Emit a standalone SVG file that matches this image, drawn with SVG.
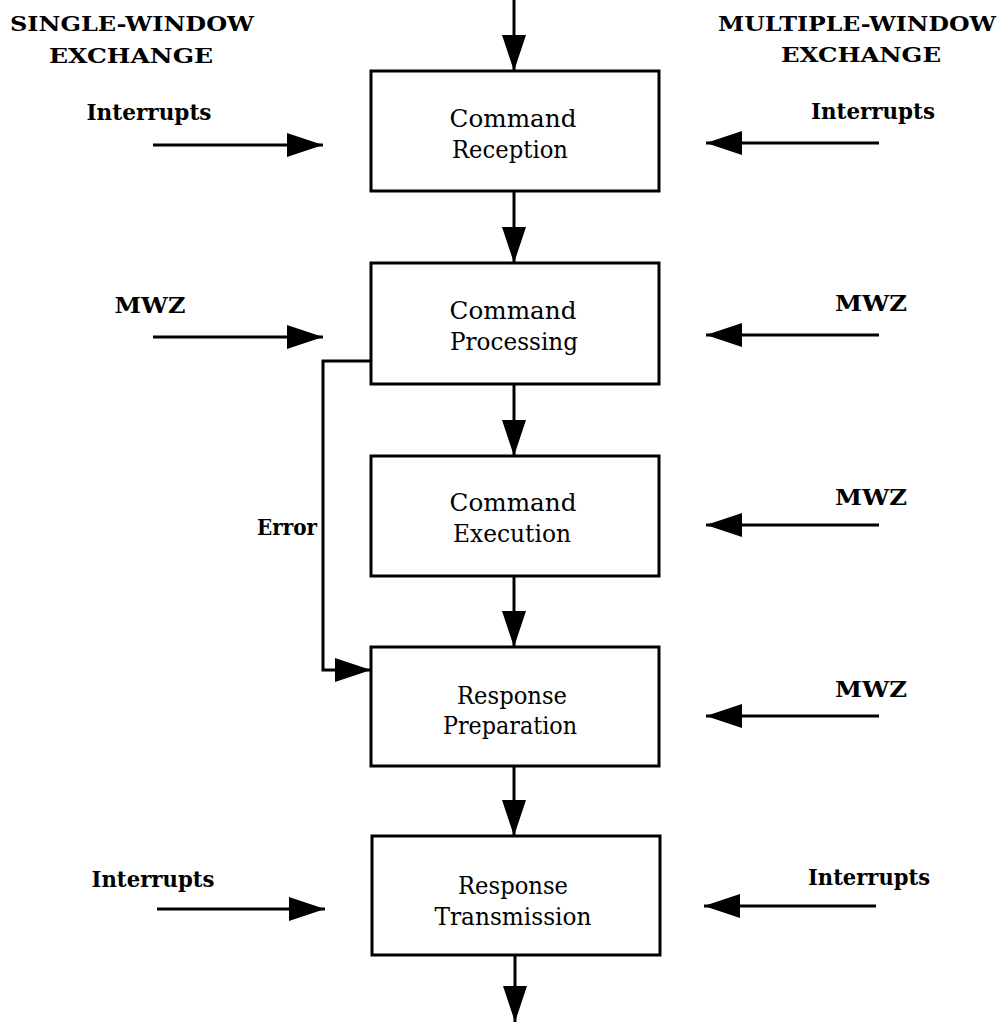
<svg xmlns="http://www.w3.org/2000/svg" width="1008" height="1024" viewBox="0 0 1008 1024">
<defs>
<style>
.box{fill:#fff;stroke:#000;stroke-width:3}
.ln{fill:none;stroke:#000;stroke-width:3}
.t{font-family:"DejaVu Serif","Liberation Serif",serif;font-size:25px;fill:#000;text-anchor:middle}
.b{font-family:"DejaVu Serif","Liberation Serif",serif;font-size:22px;font-weight:bold;fill:#000;text-anchor:middle}
.h{font-family:"DejaVu Serif","Liberation Serif",serif;font-size:21px;font-weight:bold;fill:#000;text-anchor:middle}
</style>
<marker id="ah" markerUnits="userSpaceOnUse" markerWidth="38" markerHeight="24" refX="36" refY="12" orient="auto">
<path d="M0,0 L36,12 L0,24 Z" fill="#000"/>
</marker>
</defs>
<rect width="1008" height="1024" fill="#fff"/>

<g id="headers">
<text class="h" x="132" y="31" textLength="244" lengthAdjust="spacingAndGlyphs">SINGLE-WINDOW</text>
<text class="h" x="131" y="63" textLength="164" lengthAdjust="spacingAndGlyphs">EXCHANGE</text>
<text class="h" x="857" y="31" textLength="278" lengthAdjust="spacingAndGlyphs">MULTIPLE-WINDOW</text>
<text class="h" x="861" y="62" textLength="160" lengthAdjust="spacingAndGlyphs">EXCHANGE</text>
</g>

<g id="labels">
<text class="b" x="149" y="120" textLength="125" lengthAdjust="spacingAndGlyphs">Interrupts</text>
<text class="b" x="873" y="119" textLength="124" lengthAdjust="spacingAndGlyphs">Interrupts</text>
<text class="b" x="150" y="313" textLength="71" lengthAdjust="spacingAndGlyphs">MWZ</text>
<text class="b" x="871" y="311" textLength="72" lengthAdjust="spacingAndGlyphs">MWZ</text>
<text class="b" x="871" y="505" textLength="72" lengthAdjust="spacingAndGlyphs">MWZ</text>
<text class="b" x="871" y="697" textLength="72" lengthAdjust="spacingAndGlyphs">MWZ</text>
<text class="b" x="287" y="535" textLength="60" lengthAdjust="spacingAndGlyphs">Error</text>
<text class="b" x="153" y="887" textLength="123" lengthAdjust="spacingAndGlyphs">Interrupts</text>
<text class="b" x="869" y="885" textLength="122" lengthAdjust="spacingAndGlyphs">Interrupts</text>
</g>

<g id="node-command-reception">
<rect class="box" x="371" y="71" width="288" height="120"/>
<text class="t" x="513" y="127" textLength="127" lengthAdjust="spacingAndGlyphs">Command</text>
<text class="t" x="510" y="158" textLength="116" lengthAdjust="spacingAndGlyphs">Reception</text>
</g>
<g id="node-command-processing">
<rect class="box" x="371" y="263" width="288" height="121"/>
<text class="t" x="513" y="319" textLength="127" lengthAdjust="spacingAndGlyphs">Command</text>
<text class="t" x="514" y="350" textLength="128" lengthAdjust="spacingAndGlyphs">Processing</text>
</g>
<g id="node-command-execution">
<rect class="box" x="371" y="456" width="288" height="120"/>
<text class="t" x="513" y="511" textLength="127" lengthAdjust="spacingAndGlyphs">Command</text>
<text class="t" x="512" y="542" textLength="118" lengthAdjust="spacingAndGlyphs">Execution</text>
</g>
<g id="node-response-preparation">
<rect class="box" x="371" y="647" width="288" height="119"/>
<text class="t" x="512" y="704" textLength="110" lengthAdjust="spacingAndGlyphs">Response</text>
<text class="t" x="510" y="734" textLength="134" lengthAdjust="spacingAndGlyphs">Preparation</text>
</g>
<g id="node-response-transmission">
<rect class="box" x="372" y="836" width="288" height="119"/>
<text class="t" x="513" y="894" textLength="110" lengthAdjust="spacingAndGlyphs">Response</text>
<text class="t" x="513" y="925" textLength="157" lengthAdjust="spacingAndGlyphs">Transmission</text>
</g>

<g id="connectors">
<path class="ln" d="M514,0 V71" marker-end="url(#ah)"/>
<path class="ln" d="M514,191 V263" marker-end="url(#ah)"/>
<path class="ln" d="M514,384 V456" marker-end="url(#ah)"/>
<path class="ln" d="M514,576 V647" marker-end="url(#ah)"/>
<path class="ln" d="M514,766 V836" marker-end="url(#ah)"/>
<path class="ln" d="M515,955 V1022" marker-end="url(#ah)"/>
<path class="ln" d="M153,145 H323" marker-end="url(#ah)"/>
<path class="ln" d="M879,143 H706" marker-end="url(#ah)"/>
<path class="ln" d="M153,337 H323" marker-end="url(#ah)"/>
<path class="ln" d="M879,335 H706" marker-end="url(#ah)"/>
<path class="ln" d="M879,525 H706" marker-end="url(#ah)"/>
<path class="ln" d="M879,716 H706" marker-end="url(#ah)"/>
<path class="ln" d="M157,909 H325" marker-end="url(#ah)"/>
<path class="ln" d="M876,906 H704" marker-end="url(#ah)"/>
<path class="ln" d="M371,361 H323 V670 H371" marker-end="url(#ah)"/>
</g>
</svg>
